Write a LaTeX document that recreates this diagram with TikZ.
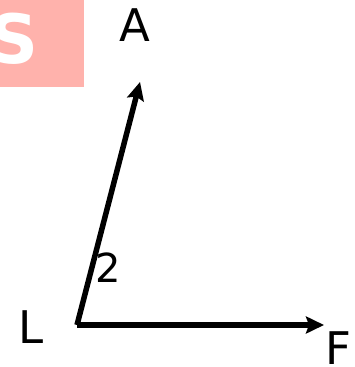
\documentclass[tikz,border=0pt]{standalone}
\usepackage{fontspec}
\setmainfont{DejaVu Sans}
\usetikzlibrary{arrows.meta,positioning}
\definecolor{badgePink}{RGB}{255,178,172}
\tikzset{
    lbl/.style={inner sep=0pt, font=\fontsize{45}{54}\selectfont},
    vec/.style={draw, line width=5.5pt, -{Stealth[length=18pt,width=17pt,inset=3pt]}}
}
\begin{document}
\begin{tikzpicture}[x=1pt, y=-1pt]
  \useasboundingbox (0,0) rectangle (354,367);
  % badge in the corner
  \begin{scope}
    \clip (0,0) rectangle (84,87);
    \fill[badgePink] (0,0) rectangle (84,87);
    \node[inner sep=0pt, text=white, font=\bfseries\fontsize{68}{80}\selectfont] (badge) at (14,39) {S};
  \end{scope}

  \coordinate (V) at (77,325);
  \coordinate (tipA) at (140,82);
  \coordinate (tipF) at (324,325);

  \node[lbl] (A) at (135,25) {A};
  \node[lbl] (L) at (31,327) {L};
  \node[lbl] (F) at (338,348) {F};
  \node[inner sep=0pt, font=\fontsize{40}{48}\selectfont] (two) at (108,268) {2};

  \draw[vec] (V) -- (tipA);
  \draw[vec] (V) -- (tipF);
\end{tikzpicture}
\end{document}
